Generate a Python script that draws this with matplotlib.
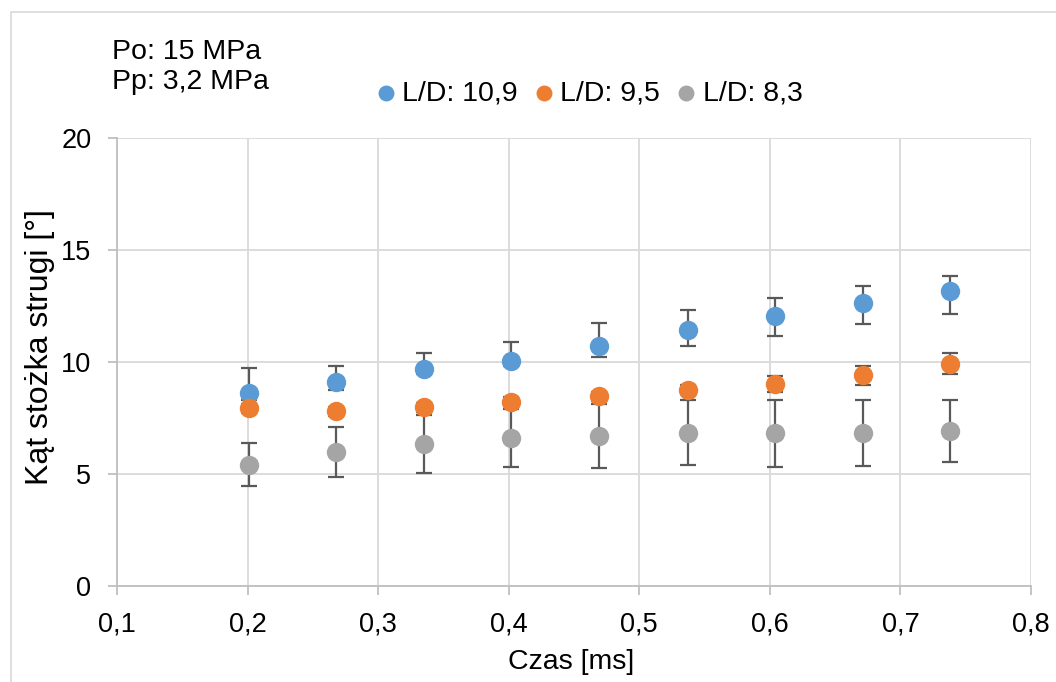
import matplotlib.pyplot as plt
from matplotlib.patches import Rectangle

plt.rcParams['font.family'] = ['Liberation Sans', 'DejaVu Sans']

# dane z wykresu
czas = [0.201, 0.268, 0.335, 0.402, 0.469, 0.537, 0.604, 0.671, 0.738]
kat_109 = [8.60, 9.10, 9.70, 10.05, 10.72, 11.42, 12.05, 12.65, 13.18]
err_109_up = [1.11, 0.72, 0.71, 0.86, 1.02, 0.89, 0.81, 0.75, 0.66]
err_109_dn = [0.30, 0.37, 0.25, 0.25, 0.50, 0.71, 0.87, 0.95, 1.03]
kat_95 = [7.93, 7.81, 7.99, 8.22, 8.48, 8.77, 9.01, 9.40, 9.93]
err_95 = [0.20, 0.20, 0.20, 0.20, 0.20, 0.20, 0.36, 0.42, 0.48]
kat_83 = [5.41, 5.96, 6.34, 6.62, 6.68, 6.84, 6.81, 6.83, 6.93]
err_83_up = [0.99, 1.14, 1.28, 1.29, 1.44, 1.47, 1.49, 1.47, 1.37]
err_83_dn = [0.96, 1.11, 1.28, 1.29, 1.43, 1.46, 1.50, 1.47, 1.40]

labels = ['L/D: 10,9', 'L/D: 9,5', 'L/D: 8,3']
colors = ['#5B9BD5', '#ED7D31', '#A5A5A5']

fig = plt.figure(figsize=(10.56, 6.82), dpi=100)
ax = fig.add_axes([117 / 1056, 1 - 586 / 682, 914 / 1056, 448 / 682])

# ramka wykresu
fig.patches.append(Rectangle((11 / 1056, -0.1), 1.2, 1 - 12 / 682 + 0.1,
                             transform=fig.transFigure, fill=False,
                             edgecolor='#D9D9D9', linewidth=1.2))

series = [
    (kat_109, [err_109_dn, err_109_up]),
    (kat_95, [err_95, err_95]),
    (kat_83, [err_83_dn, err_83_up]),
]

handles = []
for (vals, err), col, lab in zip(series, colors, labels):
    ax.errorbar(czas, vals, yerr=err, fmt='none', ecolor='#595959',
                elinewidth=1.6, capsize=5.5, capthick=1.6, zorder=2)
    h = ax.scatter(czas, vals, s=195, color=col, zorder=3, label=lab,
                   linewidths=0)
    handles.append(h)

ax.set_xlim(0.1, 0.8)
ax.set_ylim(0, 20)
ax.set_xticks([0.1, 0.2, 0.3, 0.4, 0.5, 0.6, 0.7, 0.8])
ax.set_xticklabels(['0,1', '0,2', '0,3', '0,4', '0,5', '0,6', '0,7', '0,8'])
ax.set_yticks([0, 5, 10, 15, 20])
ax.grid(True, color='#D9D9D9', linewidth=1.3)
ax.set_axisbelow(True)
for s in ['top', 'right']:
    ax.spines[s].set_visible(False)
for s in ['left', 'bottom']:
    ax.spines[s].set_color('#BFBFBF')
    ax.spines[s].set_linewidth(1.3)
ax.tick_params(axis='both', direction='out', length=6.5, width=1.3,
               color='#BFBFBF', labelsize=19.5, pad=12)

# opisy osi
fig.text(571 / 1056, 1 - 662 / 682, 'Czas [ms]', fontsize=20.5,
         ha='center', va='center')
fig.text(40 / 1056, 1 - 347 / 682, 'Kąt stożka strugi [°]', fontsize=23,
         ha='center', va='center', rotation=90)

fig.text(112 / 1056, 1 - 59 / 682, 'Po: 15 MPa', fontsize=20.5, va='baseline')
fig.text(112 / 1056, 1 - 89 / 682, 'Pp: 3,2 MPa', fontsize=20.5, va='baseline')

fig.legend(handles=handles, loc='center left',
           bbox_to_anchor=(377 / 1056, 1 - 93 / 682),
           ncol=3, frameon=False, fontsize=20.5, handlelength=0.6,
           handletextpad=0.27, columnspacing=0.63, markerscale=0.82,
           borderpad=0, borderaxespad=0)

fig.savefig('out.png', dpi=100, facecolor='white')
